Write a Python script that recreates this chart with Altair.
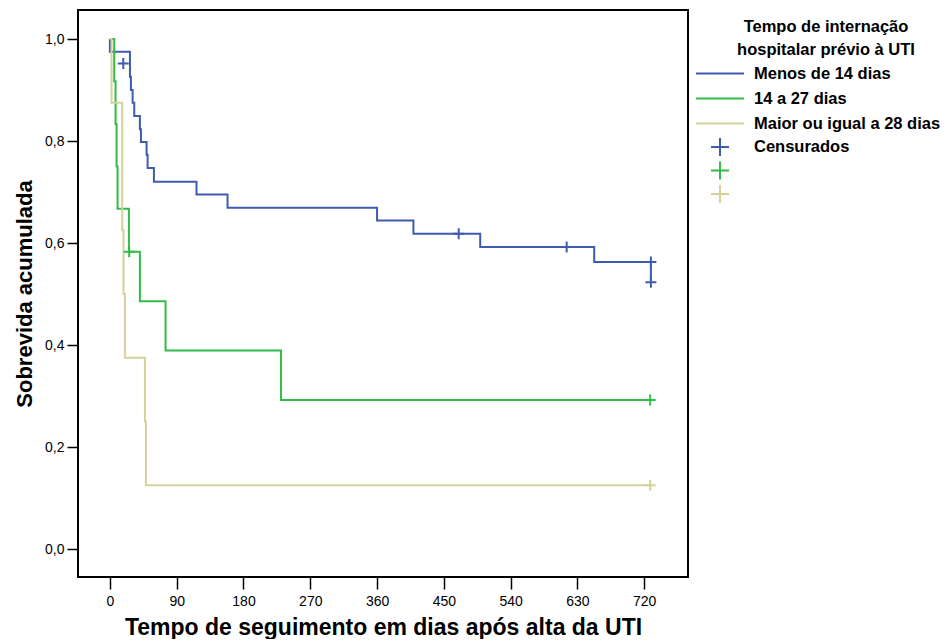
import altair as alt
import pandas as pd

# ---- data ----
series_names = ["Menos de 14 dias", "14 a 27 dias", "Maior ou igual a 28 dias"]
series_colors = ["#3F5BB0", "#33BB48", "#D6D19A"]

blue_days = [0, 0, 27, 28.3, 30.6, 32.8, 40.4, 41.8, 49.4, 50.8, 59.3, 116.7, 158.5, 360, 409, 499, 652.6, 729]
blue_surv = [1.0, 0.975, 0.926, 0.900, 0.875, 0.849, 0.823, 0.798, 0.773, 0.747, 0.720, 0.695, 0.669, 0.644, 0.618, 0.592, 0.563, 0.523]

green_days = [0, 5.8, 7.6, 9.0, 10.3, 25.6, 40.4, 75, 230.5, 728]
green_surv = [1.0, 0.917, 0.833, 0.750, 0.667, 0.583, 0.486, 0.389, 0.292, 0.292]

khaki_days = [0, 2.2, 16.6, 18.4, 20.2, 47.2, 48.5, 728]
khaki_surv = [1.0, 0.875, 0.625, 0.500, 0.375, 0.250, 0.125, 0.125]

cens_days = [18, 470, 615.5, 729, 729, 26, 728, 728]
cens_surv = [0.952, 0.618, 0.592, 0.563, 0.523, 0.583, 0.292, 0.125]
cens_group = ["Censurados", "Censurados", "Censurados", "Censurados", "Censurados", "c2", "c2", "c3"]
cens_domain = ["Censurados", "c2", "c3"]

x_ticks = [0, 90, 180, 270, 360, 450, 540, 630, 720]
y_ticks = [0.0, 0.2, 0.4, 0.6, 0.8, 1.0]

# ---- tables ----
rows = []
for name, days, surv in zip(series_names, [blue_days, green_days, khaki_days],
                            [blue_surv, green_surv, khaki_surv]):
    for i, (d, s) in enumerate(zip(days, surv)):
        rows.append({"grupo": name, "dias": d, "surv": s, "ordem": i})
lines_df = pd.DataFrame(rows)
cens_df = pd.DataFrame({"dias": cens_days, "surv": cens_surv, "cg": cens_group})

FONT = "Liberation Sans"

xscale = alt.Scale(domain=[-43, 779], nice=False, zero=False)
yscale = alt.Scale(domain=[-0.0549, 1.0569], nice=False, zero=False)

xaxis = alt.Axis(values=x_ticks, format="d", title="Tempo de seguimento em dias após alta da UTI",
                 tickSize=12, labelPadding=5, titlePadding=8, titleFontSize=23)
yaxis = alt.Axis(values=y_ticks, labelExpr="replace(format(datum.value, '.1f'), '.', ',')",
                 title="Sobrevida acumulada", tickSize=11, labelPadding=3, titlePadding=8)

hline = "M-3,0L3,0"
lines = alt.Chart(lines_df).mark_line(interpolate="step-after", strokeWidth=2).encode(
    x=alt.X("dias:Q", scale=xscale, axis=xaxis),
    y=alt.Y("surv:Q", scale=yscale, axis=yaxis),
    order="ordem:Q",
    color=alt.Color("grupo:N", scale=alt.Scale(domain=series_names, range=series_colors),
                    legend=alt.Legend(
                        title=["Tempo de internação", "hospitalar prévio à UTI"],
                        orient="none", legendX=633, legendY=9, padding=0,
                        symbolType=hline, symbolSize=256, symbolStrokeWidth=2,
                        symbolFillColor="transparent",
                        labelFont=FONT, labelFontSize=16.5, labelFontWeight="bold", labelColor="black",
                        labelLimit=400, labelOffset=25,
                        titleFont=FONT, titleFontSize=16.5, titleFontWeight="bold", titleColor="black",
                        titleAlign="center", titleAnchor="middle", titleLineHeight=23, titlePadding=6,
                        rowPadding=7)),
)

cross = "M-1,0L1,0M0,-1L0,1"
points = alt.Chart(cens_df).mark_point(shape=cross, size=121, strokeWidth=2, filled=False, opacity=1).encode(
    x=alt.X("dias:Q", scale=xscale),
    y=alt.Y("surv:Q", scale=yscale),
    stroke=alt.Stroke("cg:N", scale=alt.Scale(domain=cens_domain, range=series_colors),
                      legend=alt.Legend(
                          title=None, orient="none", legendX=632, legendY=127, padding=0,
                          symbolType=cross, symbolSize=324, symbolStrokeWidth=2,
                          symbolFillColor="transparent",
                          labelExpr="datum.value == 'Censurados' ? 'Censurados' : ''",
                          labelFont=FONT, labelFontSize=16.5, labelFontWeight="bold", labelColor="black",
                          labelOffset=24, rowPadding=-2.5)),
)

chart = alt.layer(lines, points).properties(
    width=610, height=567,
    autosize=alt.AutoSizeParams(type="none"),
    padding={"left": 70, "top": 2, "right": 252, "bottom": 62},
).configure_view(
    stroke="black", strokeWidth=2
).configure_axis(
    grid=False, domain=False, tickColor="black", tickWidth=1.5,
    labelFont=FONT, labelFontSize=14, labelColor="black",
    titleFont=FONT, titleFontSize=22, titleFontWeight="bold", titleColor="black",
)

chart.save("out.html", embed_options={"renderer": "svg", "actions": False})
